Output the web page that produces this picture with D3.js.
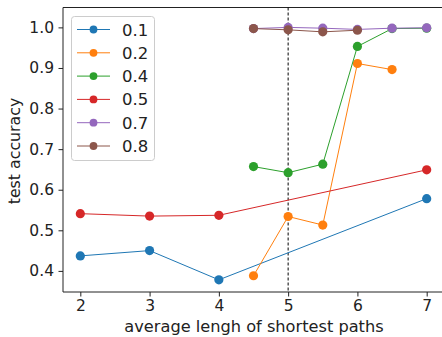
<!DOCTYPE html>
<html>
<head>
<meta charset="utf-8">
<script src="https://cdn.jsdelivr.net/npm/d3@7/dist/d3.min.js"></script>
<style>
  body { margin: 0; background: #fff; }
  text { font-family: "DejaVu Sans", sans-serif; fill: #222; }
</style>
</head>
<body>
<script>
// data
var xs01 = [2, 3, 4, 7],           ys01 = [0.437, 0.450, 0.378, 0.578];
var xs02 = [4.5, 5, 5.5, 6, 6.5],  ys02 = [0.388, 0.534, 0.513, 0.911, 0.896];
var xs04 = [4.5, 5, 5.5, 6, 6.5, 7], ys04 = [0.657, 0.642, 0.663, 0.953, 0.997, 0.998];
var xs05 = [2, 3, 4, 7],           ys05 = [0.541, 0.535, 0.537, 0.649];
var xs07 = [4.5, 5, 5.5, 6, 6.5, 7], ys07 = [0.997, 1.0, 0.998, 0.995, 0.998, 0.999];
var xs08 = [4.5, 5, 5.5, 6],       ys08 = [0.997, 0.994, 0.989, 0.993];

var names  = ["0.1", "0.2", "0.4", "0.5", "0.7", "0.8"];
var colors = ["#1f77b4", "#ff7f0e", "#2ca02c", "#d62728", "#9467bd", "#8c564b"];
var xTicks = [2, 3, 4, 5, 6, 7];
var yTicks = [0.4, 0.5, 0.6, 0.7, 0.8, 0.9, 1.0];
var cutX = 5;

var series = [
  {name: names[0], xs: xs01, ys: ys01},
  {name: names[1], xs: xs02, ys: ys02},
  {name: names[2], xs: xs04, ys: ys04},
  {name: names[3], xs: xs05, ys: ys05},
  {name: names[4], xs: xs07, ys: ys07},
  {name: names[5], xs: xs08, ys: ys08}
];

var W = 442, H = 337;
var padL = 63, padR = 444, padT = 7.5, padB = 292;

var svg = d3.select("body").append("svg")
    .attr("width", W)
    .attr("height", H);

var x = d3.scaleLinear().domain([1.75, 7.25]).range([padL, padR]);
var y = d3.scaleLinear().domain([0.348, 1.049]).range([padB, padT]);

// ticks (spines drawn by hand below)
var xAxis = svg.append("g")
    .attr("transform", "translate(0," + padB + ")")
    .call(d3.axisBottom(x).tickValues(xTicks).tickFormat(d3.format("d")).tickSize(4.5).tickPadding(3.5));
var yAxis = svg.append("g")
    .attr("transform", "translate(" + padL + ",0)")
    .call(d3.axisLeft(y).tickValues(yTicks).tickFormat(d3.format(".1f")).tickSize(4.5).tickPadding(4.5));
[xAxis, yAxis].forEach(function (g) {
  g.select(".domain").remove();
  g.selectAll(".tick line").attr("stroke", "#222");
  g.selectAll(".tick text").attr("font-size", 15.5).attr("fill", "#222")
    .attr("font-family", "DejaVu Sans");
});
svg.append("path")
    .attr("d", "M" + (padR) + "," + padT + "H" + padL + "V" + padB + "H" + padR)
    .attr("fill", "none")
    .attr("stroke", "#222").attr("stroke-width", 1);

// vertical dashed marker
svg.append("line")
    .attr("x1", x(cutX)).attr("x2", x(cutX))
    .attr("y1", padT).attr("y2", padB)
    .attr("stroke", "#000").attr("stroke-width", 1)
    .attr("stroke-dasharray", "3,2");

var line = d3.line()
    .x(function (d) { return x(d[0]); })
    .y(function (d) { return y(d[1]); });

series.forEach(function (s, i) {
  var pts = s.xs.map(function (v, j) { return [v, s.ys[j]]; });
  var g = svg.append("g");
  g.append("path")
      .attr("d", line(pts))
      .attr("fill", "none")
      .attr("stroke", colors[i])
      .attr("stroke-width", 1);
  g.selectAll("circle")
      .data(pts)
      .enter().append("circle")
      .attr("cx", function (d) { return x(d[0]); })
      .attr("cy", function (d) { return y(d[1]); })
      .attr("r", 4.6)
      .attr("fill", colors[i]);
});

// legend
var leg = svg.append("g");
leg.append("rect")
    .attr("x", 71.5).attr("y", 16.5)
    .attr("width", 83).attr("height", 144)
    .attr("rx", 3)
    .attr("fill", "#fff").attr("fill-opacity", 0.8)
    .attr("stroke", "#ccc").attr("stroke-width", 1);
series.forEach(function (s, i) {
  var yy = 29.5 + i * 23.3;
  leg.append("line")
      .attr("x1", 77).attr("x2", 110)
      .attr("y1", yy).attr("y2", yy)
      .attr("stroke", colors[i]).attr("stroke-width", 1);
  leg.append("circle")
      .attr("cx", 93.5).attr("cy", yy).attr("r", 3.9)
      .attr("fill", colors[i]);
  leg.append("text")
      .attr("x", 122).attr("y", yy + 6)
      .attr("font-size", 16.5)
      .text(s.name);
});

// axis labels
svg.append("text")
    .attr("x", 254).attr("y", 331.5)
    .attr("text-anchor", "middle")
    .attr("font-size", 16.2)
    .text("average lengh of shortest paths");
svg.append("text")
    .attr("transform", "translate(20,151) rotate(-90)")
    .attr("text-anchor", "middle")
    .attr("font-size", 15.8)
    .text("test accuracy");
</script>
</body>
</html>
